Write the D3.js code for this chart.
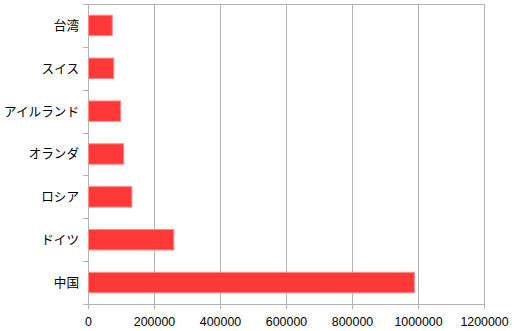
<!DOCTYPE html>
<html>
<head>
<meta charset="utf-8">
<script src="https://cdn.jsdelivr.net/npm/d3@7"></script>
<style>
  body { margin: 0; background: #fff; }
  .grid line { stroke: #b3b3b3; stroke-width: 1; }
  .ylab text { font-family: "Noto Sans CJK JP", sans-serif; font-size: 12.6px; fill: #000; }
  .xaxis text { font-family: "Liberation Sans", Arial, sans-serif; font-size: 12.4px; fill: #000; }
  .bar { fill: #ff3838; stroke: #ff8a8a; stroke-width: 1; }
</style>
</head>
<body>
<div id="chart"></div>
<script>
// country names, top to bottom
var countries = ["台湾", "スイス", "アイルランド", "オランダ", "ロシア", "ドイツ", "中国"];
var values = [73500, 78000, 99000, 108000, 133000, 260000, 989000];
var xTicks = [0, 200000, 400000, 600000, 800000, 1000000, 1200000];

var margin = { top: 4, right: 33, bottom: 27, left: 88 },
    width = 517 - margin.left - margin.right,
    height = 331 - margin.top - margin.bottom;

var svg = d3.select("#chart").append("svg")
    .attr("width", 517)
    .attr("height", 331)
  .append("g")
    .attr("transform", "translate(" + margin.left + "," + margin.top + ")");

var x = d3.scaleLinear().domain([0, 1200000]).range([0, width]);
var y = d3.scaleBand().domain(countries).range([0, height]).paddingInner(0.5).paddingOuter(0.25);

// vertical grid lines
svg.append("g").attr("class", "grid")
    .selectAll("line")
    .data(xTicks.slice(1))
    .enter().append("line")
    .attr("x1", function(d) { return Math.round(x(d)) + 0.5; })
    .attr("x2", function(d) { return Math.round(x(d)) + 0.5; })
    .attr("y1", 0)
    .attr("y2", height + 5);

// top border line
svg.append("line")
    .attr("x1", -5).attr("x2", width + 0.5)
    .attr("y1", 0.5).attr("y2", 0.5)
    .style("stroke", "#b3b3b3");

// category boundaries on the left axis
var bounds = d3.range(countries.length + 1).map(function(i) { return i * y.step(); });
svg.append("g").attr("class", "grid")
    .selectAll("line")
    .data(bounds)
    .enter().append("line")
    .attr("x1", -5).attr("x2", 0)
    .attr("y1", function(d) { return Math.round(d) + 0.5; })
    .attr("y2", function(d) { return Math.round(d) + 0.5; });

svg.append("line")
    .attr("x1", 0.5).attr("x2", 0.5)
    .attr("y1", 0).attr("y2", height + 5)
    .style("stroke", "#b3b3b3");

svg.append("line")
    .attr("x1", -5).attr("x2", width + 0.5)
    .attr("y1", Math.round(height) + 0.5).attr("y2", Math.round(height) + 0.5)
    .style("stroke", "#b3b3b3");

svg.selectAll(".bar")
    .data(values)
    .enter().append("rect")
    .attr("class", "bar")
    .attr("x", 0.5)
    .attr("y", function(d, i) { return y(countries[i]) + 0.5; })
    .attr("width", function(d) { return x(d) - 0.5; })
    .attr("height", y.bandwidth() - 1);

svg.append("g").attr("class", "ylab")
    .selectAll("text")
    .data(countries)
    .enter().append("text")
    .attr("x", -9)
    .attr("y", function(d) { return y(d) + y.bandwidth() / 2; })
    .attr("dy", "0.35em")
    .attr("text-anchor", "end")
    .text(function(d) { return d; });

svg.append("g").attr("class", "xaxis")
    .selectAll("text")
    .data(xTicks)
    .enter().append("text")
    .attr("x", function(d) { return x(d) + 0.5; })
    .attr("y", height + 22)
    .attr("text-anchor", "middle")
    .text(function(d) { return d; });
</script>
</body>
</html>
